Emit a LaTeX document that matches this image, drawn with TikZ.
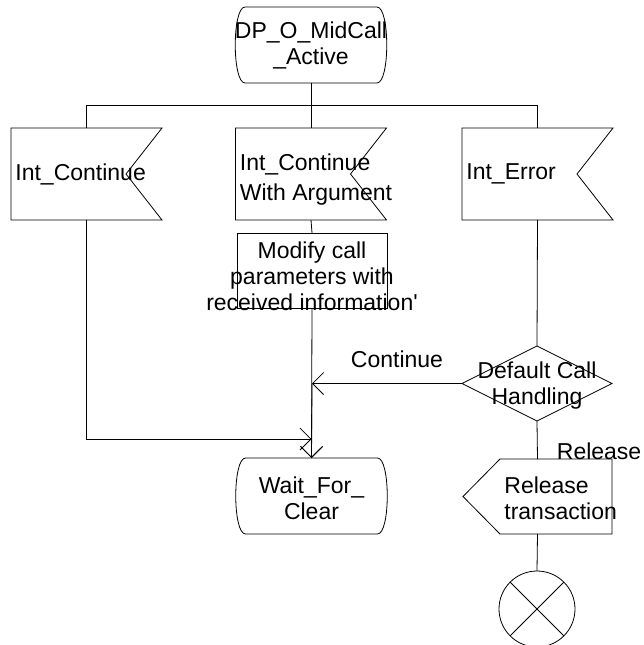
\documentclass[tikz,border=0pt]{standalone}
\usepackage{fontspec}
\setmainfont{Liberation Sans}
\usetikzlibrary{arrows.meta,positioning,calc,shapes.geometric}

% outlines of the SDL symbols, drawn round an empty node
\newcommand{\drawstate}[1]{\draw ($(#1.north west)+(9,0)$) -- ($(#1.north east)+(-9,0)$) .. controls ($(#1.north east)+(4,0)$) and ($(#1.south east)+(4,0)$) .. ($(#1.south east)+(-9,0)$) -- ($(#1.south west)+(9,0)$) .. controls ($(#1.south west)+(-4,0)$) and ($(#1.north west)+(-4,0)$) .. cycle;}
\newcommand{\drawinput}[1]{\draw (#1.north west) -- (#1.north east) -- ($(#1.east)+(-36,0)$) -- (#1.south east) -- (#1.south west) -- cycle;}
\newcommand{\drawoutput}[1]{\draw (#1.west) -- ($(#1.north west)+(37,0)$) -- (#1.north east) -- (#1.south east) -- ($(#1.south west)+(37,0)$) -- cycle;}

\begin{document}
\begin{tikzpicture}[x=1pt, y=-1pt, font=\fontsize{23}{26}\selectfont, line width=0.8pt,
    >={Straight Barb[length=11pt, width=22pt]}]
  \tikzstyle{plainbox}=[inner sep=0pt, outer sep=0pt]
  \tikzstyle{statebox}=[plainbox, minimum width=150pt, minimum height=76pt]
  \tikzstyle{inbox}=[plainbox, minimum width=151pt, minimum height=92pt]
  \tikzstyle{taskbox}=[plainbox, draw, minimum width=150pt, minimum height=75pt]
  \tikzstyle{decbox}=[plainbox, draw, diamond, minimum width=150pt, minimum height=75pt]
  \tikzstyle{outbox}=[plainbox, minimum width=149pt, minimum height=75pt]
  \tikzstyle{stopbox}=[plainbox, draw, circle, minimum size=76pt]
  \tikzstyle{ctxt}=[anchor=center, inner sep=0pt, align=center]
  \tikzstyle{ltxt}=[anchor=west, inner sep=0pt, xshift=4pt, align=left]
  \useasboundingbox (0,0) rectangle (643,645);

  \node[statebox, label={[ctxt]center:DP\_O\_MidCall\\\_Active}] (start) at (311,45) {};
  \drawstate{start}

  \node[inbox, label={[ltxt]west:Int\_Continue}] (icont) at (86.5,174) {};
  \node[inbox, label={[ltxt, yshift=-6pt]west:Int\_Continue\\[4pt]With Argument}] (iarg) at (311,174) {};
  \node[inbox, label={[ltxt]west:Int\_Error}] (ierr) at (537.5,174) {};
  \drawinput{icont}
  \drawinput{iarg}
  \drawinput{ierr}

  \node[taskbox, label={[ctxt, yshift=-6pt]center:Modify call\\parameters with\\received information\textquotesingle}] (task) at (312,270.5) {};
  \node[decbox, label={[ctxt, yshift=-2pt]center:Default Call\\Handling}] (dec) at (537,383.5) {};
  \node[statebox, label={[ctxt, yshift=-2pt]center:Wait\_For\_\\Clear}] (wait) at (311.5,496) {};
  \drawstate{wait}
  \node[outbox, label={[ltxt, xshift=37pt, yshift=-2pt]west:Release\\transaction}] (out) at (537.5,496.5) {};
  \drawoutput{out}
  \node[stopbox] (stop) at (537,609) {};
  \draw (stop.north west) -- (stop.south east);
  \draw (stop.north east) -- (stop.south west);

  % connectors
  \coordinate (fork) at (311,105);
  \draw (start.south) -- (fork);
  \draw (icont.north) -- (icont.north |- fork) -- (ierr.north |- fork) -- (ierr.north);
  \draw (fork) -- (iarg.north);
  \draw (iarg.south) -- (task.north);
  \draw[->] (task.south) -- (wait.north);
  \draw[->] (dec.west) -- node[above=15pt, inner sep=0pt, xshift=10pt]{Continue} (task.south |- dec.west);
  \draw[->] (task.south |- dec.west) -- (wait.north);
  \draw[->] (icont.south) |- ($(wait.north)+(0,-19)$);
  \draw (ierr.south) -- (dec.north);
  \draw (dec.south) -- node[at end, anchor=base west, inner sep=0pt, xshift=19pt]{Release} (out.north);
  \draw (out.south) -- (stop.north);
\end{tikzpicture}
\end{document}
